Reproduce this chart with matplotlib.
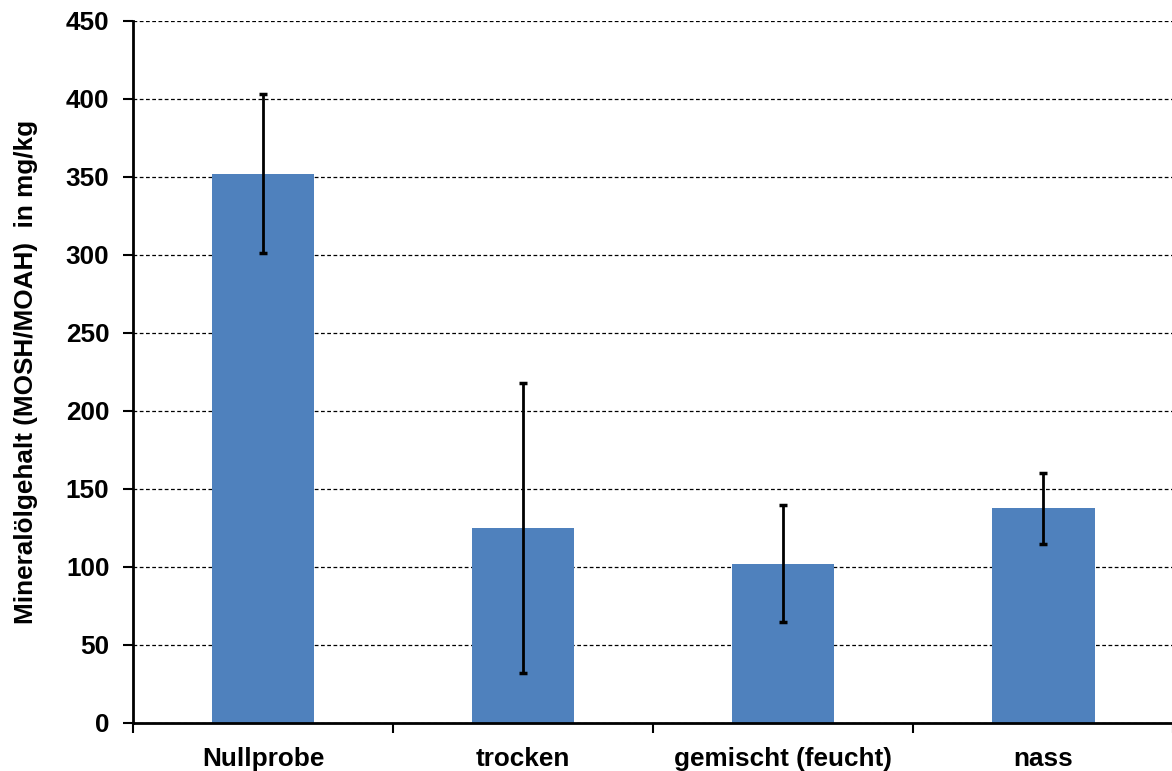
import matplotlib
matplotlib.use('Agg')
import matplotlib.pyplot as plt
import numpy as np

plt.rcParams['font.family'] = ['Liberation Sans', 'DejaVu Sans']
plt.rcParams['font.weight'] = 'bold'

# Daten
kategorien = ['Nullprobe', 'trocken', 'gemischt (feucht)', 'nass']
mittelwerte = [352, 125, 102, 137.5]
fehler = [51, 93, 37.5, 22.5]

fig = plt.figure(figsize=(11.72, 7.71), dpi=100)
ax = fig.add_axes([0.1135, 0.0623, 0.8875, 0.9105])

x = np.arange(len(kategorien))
ax.bar(x, mittelwerte, width=0.395, color='#4F81BD', zorder=2)
ax.errorbar(x, mittelwerte, yerr=fehler, fmt='none', ecolor='black',
            elinewidth=2, capsize=2.8, capthick=2.5, zorder=3)

ax.set_xlim(-0.5, len(kategorien) - 0.5)
ax.set_ylim(0, 450)
ax.set_yticks(np.arange(0, 451, 50))
ax.yaxis.grid(True, linestyle=(0, (3, 2)), color='black', linewidth=0.9, zorder=0)
ax.set_axisbelow(True)

# Kategorie-Beschriftungen, Teilstriche an den Grenzen
ax.set_xticks(x)
ax.set_xticklabels(kategorien, fontsize=18.8, fontweight='bold')
ax.tick_params(axis='x', which='major', length=0, pad=17)
ax.set_xticks(np.arange(-0.5, len(kategorien), 1), minor=True)
ax.tick_params(axis='x', which='minor', length=7, width=1.5, direction='out')
ax.tick_params(axis='y', length=7, width=1.5, direction='out', labelsize=18.8, pad=10)
for lbl in ax.get_yticklabels():
    lbl.set_fontweight('bold')

for s in ['top', 'right']:
    ax.spines[s].set_visible(False)
ax.spines['left'].set_linewidth(2)
ax.spines['bottom'].set_linewidth(2)

ax.set_ylabel('Mineralölgehalt (MOSH/MOAH)  in mg/kg', fontsize=18.8, fontweight='bold', labelpad=20)

plt.savefig('out.png', dpi=100)
